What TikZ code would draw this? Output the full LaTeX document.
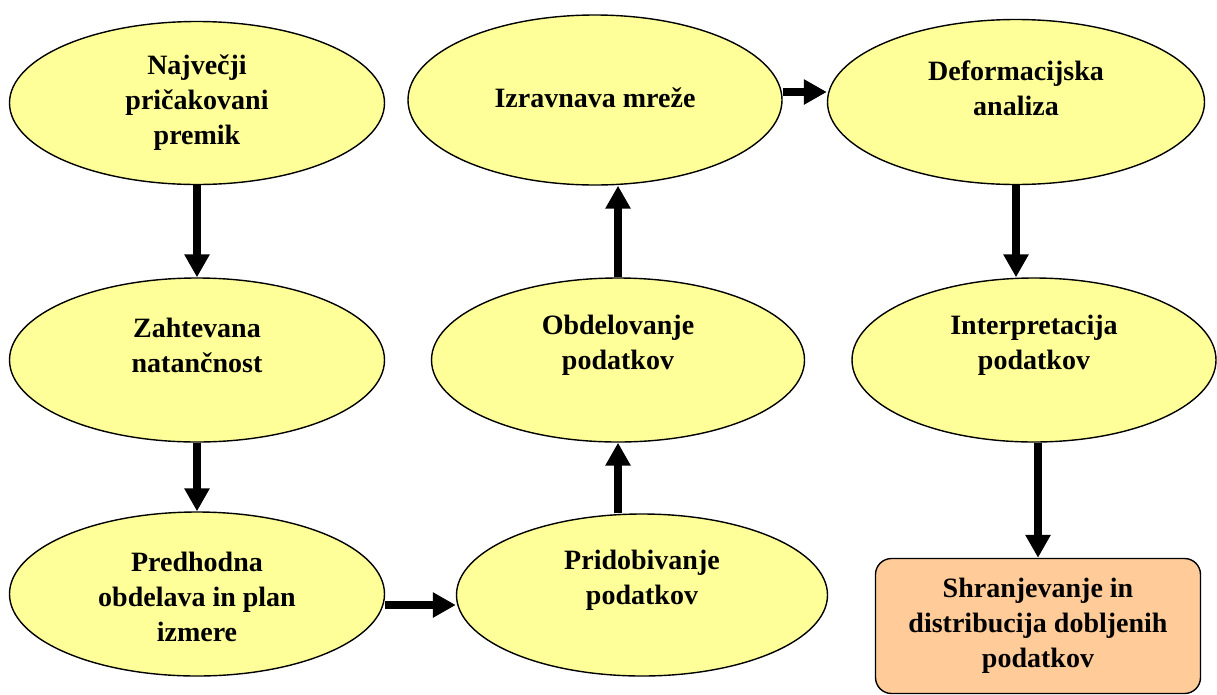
\documentclass[tikz,border=0pt]{standalone}
\usepackage{fontspec}
\setmainfont{Liberation Serif}
\usetikzlibrary{shapes.geometric,arrows.meta}
\definecolor{ellfill}{HTML}{FFFF99}
\definecolor{boxfill}{HTML}{FFCC99}
\tikzset{
  ell/.style={ellipse, draw=black, line width=1.4pt, fill=ellfill, inner sep=0pt},
  txt/.style={align=center, font=\fontsize{28}{35}\selectfont\bfseries, inner sep=0pt},
  flow/.style={line width=8pt, -{Triangle[length=23pt,width=24pt]}},
}
\begin{document}
\begin{tikzpicture}[x=1pt,y=-1pt]
\useasboundingbox (0,0) rectangle (1217,694);
\node[ell, minimum width=375pt, minimum height=163pt,
  label={[txt]center:Največji\\pričakovani\\premik}] (e1) at (197,103) {};
\node[ell, minimum width=375pt, minimum height=164pt,
  label={[txt,yshift=15pt]center:Zahtevana\\natančnost}] (e2) at (197,360) {};
\node[ell, minimum width=375pt, minimum height=164pt,
  label={[txt,yshift=-3pt]center:Predhodna\\obdelava in plan\\izmere}] (e3) at (197,594) {};
\node[ell, minimum width=371pt, minimum height=162pt,
  label={[txt,yshift=15pt]center:Pridobivanje\\podatkov}] (e4) at (642,595) {};
\node[ell, minimum width=373pt, minimum height=164pt,
  label={[txt,yshift=15pt]center:Obdelovanje\\podatkov}] (e5) at (618,360) {};
\node[ell, minimum width=374pt, minimum height=170pt,
  label={[txt,yshift=2pt]center:Izravnava mreže}] (e6) at (595,100) {};
\node[ell, minimum width=377pt, minimum height=165pt,
  label={[txt,yshift=14pt]center:Deformacijska\\analiza}] (e7) at (1016,102) {};
\node[ell, minimum width=364pt, minimum height=164pt,
  label={[txt,yshift=15pt]center:Interpretacija\\podatkov}] (e8) at (1034,360) {};
\node[draw=black, line width=1.4pt, fill=boxfill, rounded corners=16pt,
  minimum width=325pt, minimum height=135pt, txt, inner sep=0pt]
  (box) at (1038,626) {Shranjevanje in\\distribucija dobljenih\\podatkov};

\draw[flow] (e1.south) -- (e2.north);
\draw[flow] (e2.south) -- (e3.north);
\draw[flow] ([yshift=-11pt]e3.east) -- ([yshift=-10pt]e4.west);
\draw[flow] (e5.south |- e4.north) -- (e5.south);
\draw[flow] (e5.north) -- (e6.south -| e5.north);
\draw[flow] ([yshift=8pt]e6.east) -- ([yshift=10pt]e7.west);
\draw[flow] (e7.south) -- (e8.north -| e7.south);
\draw[flow] (box.north |- e8.south) -- (box.north);
\end{tikzpicture}
\end{document}
